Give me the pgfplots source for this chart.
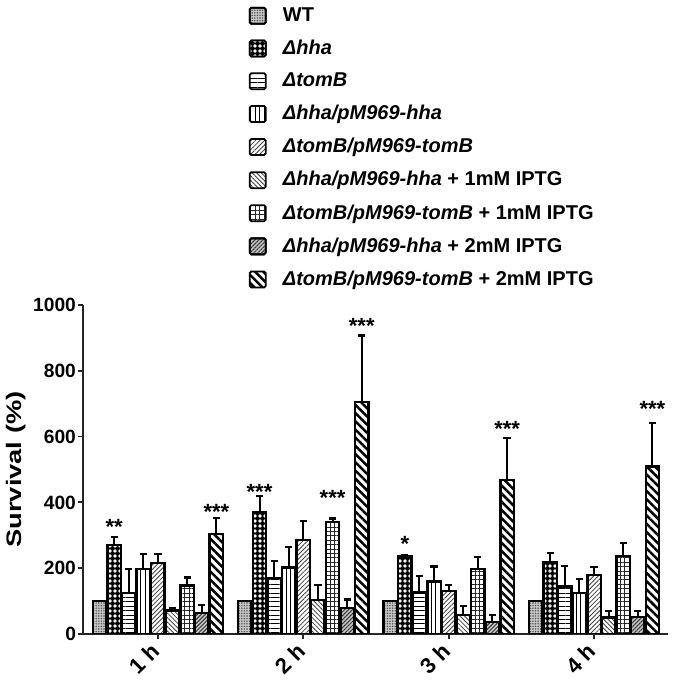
\documentclass[border=0pt]{standalone}
\usepackage{fontspec}
\setmainfont{Liberation Sans}
\usepackage{graphicx}
\usepackage{pgfplots}
\pgfplotsset{compat=1.18}
\usetikzlibrary{patterns,patterns.meta}

\begin{document}
\begin{tikzpicture}
\begin{axis}[
  scale only axis,
  width=292.5pt, height=164.5pt,
  ybar=0.6pt, bar width=6.7pt,
  xmin=0.484, xmax=4.509,
  ymin=0, ymax=1000,
  xtick={1,2,3,4}, xticklabels={1 h,2 h,3 h,4 h},
  ytick={0,200,...,1000},
  axis lines*=left,
  axis line style={line width=1.1pt, black!85, -},
  tick style={line width=0.9pt, black!85},
  tick align=outside,
  major tick length=2.5pt,
  /pgf/number format/assume math mode=true,
  /pgf/number format/1000 sep={},
  yticklabel style={font=\fontsize{9.6}{12}\selectfont\bfseries, xshift=2.5pt},
  xticklabel style={font=\fontsize{11}{12}\selectfont\bfseries, xshift=-3.9pt, yshift=3.5pt, rotate=45, anchor=north east},
  ylabel={\scalebox{1.3}[1]{Survival (\%)}},
  every axis y label/.style={at={([xshift=-33.5pt]rel axis cs:0,0.5)}, rotate=90, anchor=center,
    font=\fontsize{10.5}{12}\selectfont\bfseries},
  legend image code/.code={\draw[#1, line width=0.9pt, rounded corners=0.8pt] (0pt,-4pt) rectangle (8pt,4pt); \path (14pt,0pt);},
  legend style={at={(0.2725,1.930)}, anchor=north west, draw=none, fill=none,
    font=\fontsize{10}{12}\selectfont\bfseries, row sep=3.8pt},
  legend cell align=left,
  error bars/y dir=plus, error bars/y explicit,
  error bars/error bar style={line width=1pt, black},
  error bars/error mark options={rotate=90, mark size=1.8pt, line width=1.1pt, black},
]
% WT
\addplot[draw=black, line width=1.2pt, fill=gray!45,
  postaction={pattern={Dots[distance=1.3pt,radius=0.4pt]}, pattern color=black!70}] coordinates {
  (1,100) +- (0,0) (2,100) +- (0,0) (3,100) +- (0,0) (4,100) +- (0,0)};
\addlegendentry{WT}
% hha
\addplot[draw=black, line width=1.2pt, fill=black,
  postaction={pattern={Dots[distance=2.5pt,radius=0.95pt]}, pattern color=white}] coordinates {
  (1,270) +- (0,26) (2,369) +- (0,51) (3,235) +- (0,4) (4,217) +- (0,30)};
\addlegendentry{\textit{Δhha}}
% tomB
\addplot[draw=black, line width=1.2pt, pattern={Lines[angle=0,distance=2.2pt,line width=0.45pt]}] coordinates {
  (1,125) +- (0,72) (2,171) +- (0,51) (3,126) +- (0,50) (4,144) +- (0,63)};
\addlegendentry{\textit{ΔtomB}}
% hha/pM969-hha
\addplot[draw=black, line width=1.2pt, pattern={Lines[angle=90,distance=2.2pt,line width=0.45pt]}] coordinates {
  (1,197) +- (0,46) (2,202) +- (0,62) (3,159) +- (0,46) (4,124) +- (0,42)};
\addlegendentry{\textit{Δhha/pM969-hha}}
% tomB/pM969-tomB
\addplot[draw=black, line width=1.2pt, pattern={Lines[angle=45,distance=1.6pt,line width=0.4pt]}, pattern color=black!75] coordinates {
  (1,215) +- (0,28) (2,286) +- (0,58) (3,131) +- (0,18) (4,179) +- (0,24)};
\addlegendentry{\textit{ΔtomB/pM969-tomB}}
% hha + 1mM
\addplot[draw=black, line width=1.2pt, pattern={Lines[angle=-45,distance=1.6pt,line width=0.4pt]}, pattern color=black!75] coordinates {
  (1,71) +- (0,7) (2,103) +- (0,46) (3,57) +- (0,29) (4,50) +- (0,21)};
\addlegendentry{\textit{Δhha/pM969-hha} + 1mM IPTG}
% tomB + 1mM
\addplot[draw=black, line width=1.2pt, pattern={Hatch[angle=0,distance=2.2pt,line width=0.4pt]}, pattern color=black!85] coordinates {
  (1,147) +- (0,25) (2,341) +- (0,10) (3,198) +- (0,35) (4,237) +- (0,39)};
\addlegendentry{\textit{ΔtomB/pM969-tomB} + 1mM IPTG}
% hha + 2mM
\addplot[draw=black, line width=1.2pt, fill=gray!45,
  postaction={pattern={Lines[angle=45,distance=1.4pt,line width=0.5pt]}, pattern color=black!80}] coordinates {
  (1,63) +- (0,25) (2,79) +- (0,26) (3,37) +- (0,21) (4,51) +- (0,20)};
\addlegendentry{\textit{Δhha/pM969-hha} + 2mM IPTG}
% tomB + 2mM
\addplot[draw=black, line width=1.2pt, pattern={Lines[angle=-45,distance=2.9pt,line width=1.25pt]}] coordinates {
  (1,304) +- (0,48) (2,706) +- (0,201) (3,468) +- (0,127) (4,509) +- (0,133)};
\addlegendentry{\textit{ΔtomB/pM969-tomB} + 2mM IPTG}

% significance marks
\begin{scope}[every node/.style={font=\fontsize{11}{11}\selectfont\bfseries, inner sep=0pt, yshift=-2pt}]
\node at (axis cs:0.6985,337) {**};
\node at (axis cs:1.402,383) {***};
\node at (axis cs:1.6985,444) {***};
\node at (axis cs:2.201,426) {***};
\node at (axis cs:2.402,948) {***};
\node at (axis cs:2.6985,286) {*};
\node at (axis cs:3.402,635) {***};
\node at (axis cs:4.402,696) {***};
\end{scope}
% page frame as in the reference
\coordinate (bl) at ([xshift=-41.5pt,yshift=-23.5pt]rel axis cs:0,0);
\coordinate (tr) at ([xshift=3.5pt,yshift=152.5pt]rel axis cs:1,1);
\end{axis}
\pgfresetboundingbox
\path[use as bounding box] (bl) rectangle (tr);
\end{tikzpicture}
\end{document}
